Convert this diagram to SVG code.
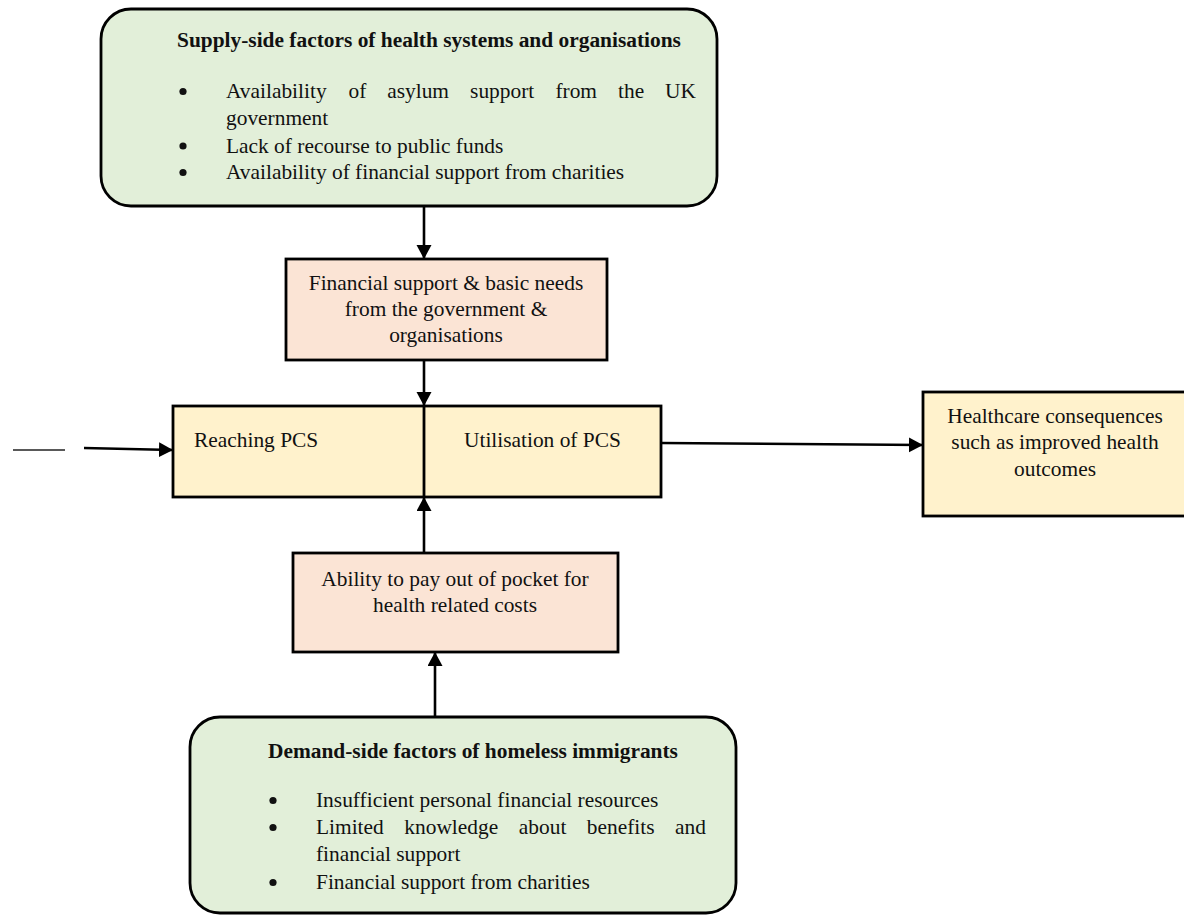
<svg xmlns="http://www.w3.org/2000/svg" width="1184" height="915" viewBox="0 0 1184 915">
  <style>
    text { font-family: "Liberation Serif", "Times New Roman", serif; font-size: 21.4px; fill: #111; }
    .b { font-weight: bold; }
    .c { text-anchor: middle; }
    .dot { fill: #111; }
    .green { fill: #E2EFD9; stroke: #000; stroke-width: 2.8; }
    .pink { fill: #FBE4D5; stroke: #000; stroke-width: 2.8; }
    .yellow { fill: #FFF2CC; stroke: #000; stroke-width: 2.8; }
    .link { stroke: #000; stroke-width: 2.6; fill: none; marker-end: url(#arrow); }
  </style>
  <defs>
    <marker id="arrow" markerUnits="userSpaceOnUse" markerWidth="15" markerHeight="16" refX="14" refY="7.5" orient="auto">
      <path d="M0,0 L14,7.5 L0,15 Z" fill="#000"/>
    </marker>
  </defs>
  <rect width="1184" height="915" fill="#fff"/>

  <!-- connectors -->
  <g id="connectors">
    <line class="link" x1="424" y1="206" x2="424" y2="259"/>
    <line class="link" x1="424" y1="360" x2="424" y2="406"/>
    <line class="link" x1="424" y1="553" x2="424" y2="497"/>
    <line class="link" x1="435" y1="717" x2="435" y2="652"/>
    <line class="link" x1="661" y1="443" x2="923" y2="445"/>
    <line class="link" x1="84" y1="448" x2="173" y2="450"/>
    <line x1="13" y1="450" x2="65" y2="450" stroke="#595959" stroke-width="2"/>
  </g>

  <!-- supply-side factors -->
  <g id="supply">
    <rect class="green" x="101" y="9" width="616" height="197" rx="30" ry="30"/>
    <text class="b" x="177" y="47">Supply-side factors of health systems and organisations</text>
    <circle class="dot" cx="183" cy="91.5" r="3.6"/>
    <text y="98"><tspan x="226">Availability</tspan><tspan x="348.5">of</tspan><tspan x="387.2">asylum</tspan><tspan x="470.1">support</tspan><tspan x="555.4">from</tspan><tspan x="618">the</tspan><tspan x="665">UK</tspan></text>
    <text x="226" y="125">government</text>
    <circle class="dot" cx="183" cy="146" r="3.6"/>
    <text x="226" y="152.5">Lack of recourse to public funds</text>
    <circle class="dot" cx="183" cy="172.5" r="3.6"/>
    <text x="226" y="179">Availability of financial support from charities</text>
  </g>

  <!-- financial support node -->
  <g id="financial-support">
    <rect class="pink" x="286" y="259" width="321" height="101"/>
    <text class="c" x="446" y="290">Financial support &amp; basic needs</text>
    <text class="c" x="446" y="316">from the government &amp;</text>
    <text class="c" x="446" y="342">organisations</text>
  </g>

  <!-- reaching / utilisation node -->
  <g id="pcs">
    <rect class="yellow" x="173" y="406" width="488" height="91"/>
    <line x1="424" y1="406" x2="424" y2="497" stroke="#000" stroke-width="2.8"/>
    <text x="194" y="447">Reaching PCS</text>
    <text x="464" y="447">Utilisation of PCS</text>
  </g>

  <!-- consequences node -->
  <g id="consequences">
    <rect class="yellow" x="923" y="392" width="275" height="124"/>
    <text class="c" x="1055" y="423">Healthcare consequences</text>
    <text class="c" x="1055" y="449">such as improved health</text>
    <text class="c" x="1055" y="476">outcomes</text>
  </g>

  <!-- out-of-pocket node -->
  <g id="out-of-pocket">
    <rect class="pink" x="293" y="553" width="325" height="99"/>
    <text class="c" x="455" y="586">Ability to pay out of pocket for</text>
    <text class="c" x="455" y="612">health related costs</text>
  </g>

  <!-- demand-side factors -->
  <g id="demand">
    <rect class="green" x="190" y="717" width="546" height="196" rx="30" ry="30"/>
    <text class="b" x="268" y="758">Demand-side factors of homeless immigrants</text>
    <circle class="dot" cx="273" cy="800.5" r="3.6"/>
    <text x="316" y="807">Insufficient personal financial resources</text>
    <circle class="dot" cx="273" cy="827.5" r="3.6"/>
    <text y="834"><tspan x="316">Limited</tspan><tspan x="404.3">knowledge</tspan><tspan x="518.8">about</tspan><tspan x="586.8">benefits</tspan><tspan x="675">and</tspan></text>
    <text x="316" y="861">financial support</text>
    <circle class="dot" cx="273" cy="882.5" r="3.6"/>
    <text x="316" y="889">Financial support from charities</text>
  </g>
</svg>
